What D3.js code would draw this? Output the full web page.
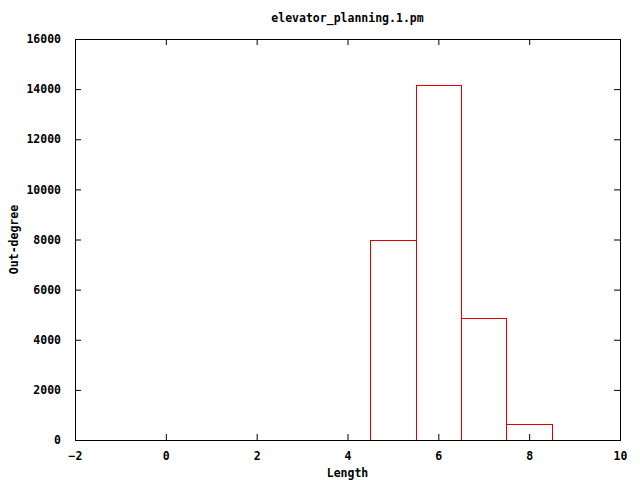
<!DOCTYPE html>
<html><head><meta charset="utf-8">
<script src="https://cdn.jsdelivr.net/npm/d3@7"></script>
<style>body{margin:0;background:#fff}svg text{font-family:"DejaVu Sans Mono",monospace;font-weight:bold;font-size:11.5px;fill:#000}</style>
</head><body>
<script>
const lengths = [5, 6, 7, 8];
const outDegree = [8000, 14150, 4850, 630];
const xTicks = [-2, 0, 2, 4, 6, 8, 10];
const yTicks = [0, 2000, 4000, 6000, 8000, 10000, 12000, 14000, 16000];
const title = "elevator_planning.1.pm";
const xLabel = "Length";
const yLabel = "Out-degree";

const W = 640, H = 480;
const m = {l: 75, r: 20, t: 39, b: 40};
const svg = d3.select("body").append("svg").attr("width", W).attr("height", H);
const x = d3.scaleLinear().domain([-2, 10]).range([m.l, W - m.r]);
const y = d3.scaleLinear().domain([0, 16000]).range([H - m.b, m.t]);
const tl = 6;
const fs = "11.5px";

// bars
svg.append("g").selectAll("rect").data(lengths).join("rect")
  .attr("x", d => Math.round(x(d - 0.5)) + 0.5)
  .attr("width", d => Math.round(x(d + 0.5)) - Math.round(x(d - 0.5)))
  .attr("y", (d, i) => Math.round(y(outDegree[i])) + 0.5)
  .attr("height", (d, i) => y(0) - Math.round(y(outDegree[i])))
  .attr("fill", "none").attr("stroke", "#e00000").attr("stroke-width", 1);

// axes with inward ticks, mirrored
const axB = d3.axisBottom(x).tickValues(xTicks).tickSize(-tl).tickPadding(tl + 6).tickFormat(d3.format("d"));
const axT = d3.axisTop(x).tickValues(xTicks).tickSize(-tl).tickFormat("");
const axL = d3.axisLeft(y).tickValues(yTicks).tickSize(-tl).tickPadding(tl + 8).tickFormat(d3.format("d"));
const axR = d3.axisRight(y).tickValues(yTicks).tickSize(-tl).tickFormat("");
const gB = svg.append("g").attr("transform", `translate(0,${y(0)})`).call(axB);
const gT = svg.append("g").attr("transform", `translate(0,${y(16000)})`).call(axT);
const gL = svg.append("g").attr("transform", `translate(${x(-2)},0)`).call(axL);
const gR = svg.append("g").attr("transform", `translate(${x(10)},0)`).call(axR);
[gB, gT, gL, gR].forEach(g => {
  g.selectAll(".domain").remove();
  g.selectAll("line").attr("stroke", "#000");
  g.selectAll("text").style("font-family", '"DejaVu Sans Mono",monospace').style("font-size", fs).style("font-weight", "bold");
});
gB.selectAll("text").attr("dy", "0.71em");
// border
svg.append("rect").attr("x", Math.round(x(-2)) + 0.5).attr("y", Math.round(y(16000)) + 0.5)
  .attr("width", Math.round(x(10)) - Math.round(x(-2))).attr("height", Math.round(y(0)) - Math.round(y(16000)))
  .attr("fill", "none").attr("stroke", "#000").attr("stroke-width", 1);

svg.append("text").attr("x", (x(-2) + x(10)) / 2).attr("y", 22).attr("text-anchor", "middle").text(title);
svg.append("text").attr("x", (x(-2) + x(10)) / 2).attr("y", 477).attr("text-anchor", "middle").text(xLabel);
svg.append("text").attr("transform", `translate(18,${(y(0) + y(16000)) / 2}) rotate(-90)`).attr("text-anchor", "middle").text(yLabel);
</script>
</body></html>
